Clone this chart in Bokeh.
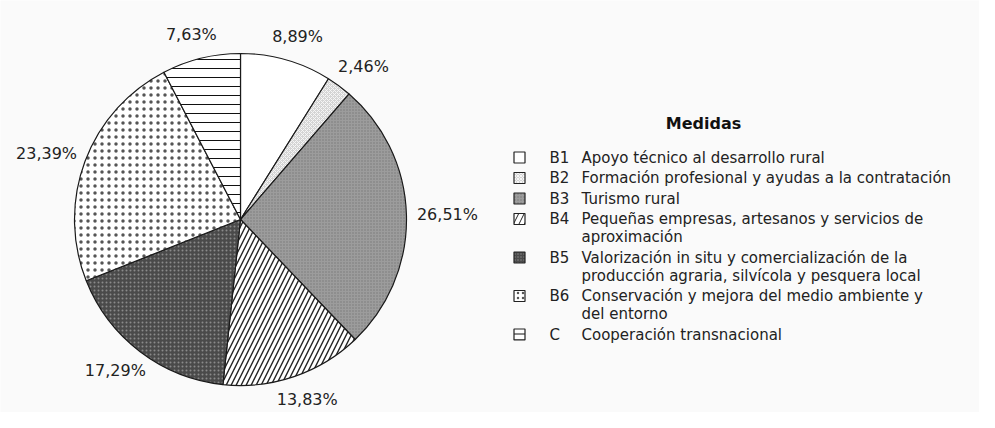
import math
from bokeh.plotting import figure
from bokeh.models import Range1d, ColumnDataSource
from bokeh.core.properties import value
from bokeh.embed import file_html
from bokeh.resources import INLINE

# ---- data ----
codes = ["B1", "B2", "B3", "B4", "B5", "B6", "C"]
descriptions = [
    "Apoyo técnico al desarrollo rural",
    "Formación profesional y ayudas a la contratación",
    "Turismo rural",
    "Pequeñas empresas, artesanos y servicios de\naproximación",
    "Valorización in situ y comercialización de la\nproducción agraria, silvícola y pesquera local",
    "Conservación y mejora del medio ambiente y\ndel entorno",
    "Cooperación transnacional",
]
shares = [8.89, 2.46, 26.51, 13.83, 17.29, 23.39, 7.63]
legend_title = "Medidas"

# ---- styles ----
fills = ["#ffffff", "#d4d4d4", "#9c9c9c", "#ffffff", "#4a4a4a", "#ffffff", "#ffffff"]
hatches = [" ", "diagonal_cross", "dot", "right_diagonal_line", "dot", "dot", "horizontal_line"]
hatch_colors = ["#000000", "#f6f6f6", "#777777", "#222222", "#8a8a8a", "#555555", "#111111"]
hatch_scales = [8, 4, 3, 10, 4, 7, 9]
hatch_weights = [1, 1, 1, 1.4, 1, 0.8, 1]
icon_hatch_scales = [8, 3, 3, 11, 3, 5, 6]

W, H = 979, 412
IMG_H = 428
BG = "#fafafa"
p = figure(width=W, height=H, output_backend="svg", toolbar_location=None,
           x_range=Range1d(0, W), y_range=Range1d(IMG_H - H, IMG_H),
           min_border=0, background_fill_color=BG,
           border_fill_color=BG, outline_line_color=None)
p.axis.visible = False
p.grid.visible = False

# pie geometry (data units == pixels, y measured upwards)
cx, cy, R = 240, IMG_H - 219, 166
total = sum(shares)
cum = 0.0
starts, ends, mids = [], [], []
for s in shares:
    a0 = math.pi / 2 - 2 * math.pi * cum / total
    cum += s
    a1 = math.pi / 2 - 2 * math.pi * cum / total
    starts.append(a0)
    ends.append(a1)
    mids.append((a0 + a1) / 2)

for i in range(len(shares)):
    p.wedge(x=cx, y=cy, radius=R, start_angle=starts[i], end_angle=ends[i],
            direction="clock", fill_color=fills[i], line_color="#1a1a1a",
            line_width=1.2, hatch_pattern=hatches[i], hatch_color=hatch_colors[i],
            hatch_scale=hatch_scales[i], hatch_weight=hatch_weights[i])

# percentage labels on an ellipse around the pie
label_rx, label_ry = 207, 190
lab_src = ColumnDataSource(dict(
    x=[cx + label_rx * math.cos(m) for m in mids],
    y=[cy + label_ry * math.sin(m) for m in mids],
    t=[f"{s:.2f}".replace(".", ",") + "%" for s in shares],
))
p.text(x="x", y="y", text="t", source=lab_src, text_align="center",
       text_baseline="middle", text_font=value("DejaVu Sans"),
       text_font_size="16px", text_color="#222222")

# legend
p.text(x=[703], y=[IMG_H - 123], text=[legend_title], text_align="center",
       text_baseline="middle", text_font=value("DejaVu Sans"),
       text_font_size="16px", text_font_style="bold", text_color="#111111")

lh, gap, y0 = 18.0, 2.5, 157.0
row_y = []
yy = y0
for d in descriptions:
    row_y.append(yy)
    yy += lh * (d.count("\n") + 1) + gap

for i in range(len(codes)):
    p.rect(x=519, y=IMG_H - row_y[i], width=11, height=11, fill_color=fills[i],
           line_color="#222222", line_width=1.2, hatch_pattern=hatches[i],
           hatch_color=hatch_colors[i], hatch_scale=icon_hatch_scales[i])

leg_src = ColumnDataSource(dict(
    xc=[549] * len(codes),
    xd=[581] * len(codes),
    y=[IMG_H - r + lh / 2 for r in row_y],
    c=codes,
    d=descriptions,
))
p.text(x="xc", y="y", text="c", source=leg_src, text_align="left",
       text_baseline="top", text_font=value("DejaVu Sans"),
       text_font_size="15px", text_color="#222222", text_line_height=1.0)
p.text(x="xd", y="y", text="d", source=leg_src, text_align="left",
       text_baseline="top", text_font=value("DejaVu Sans"),
       text_font_size="15px", text_color="#222222", text_line_height=1.0)

open("out.html", "w").write(file_html(p, INLINE))
